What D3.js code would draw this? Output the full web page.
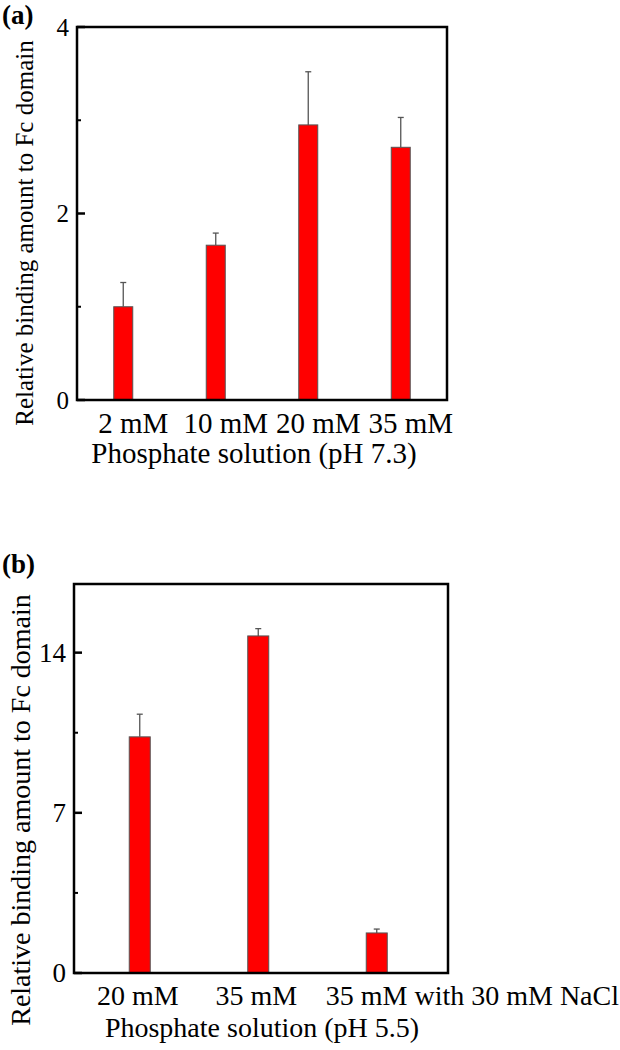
<!DOCTYPE html>
<html>
<head>
<meta charset="utf-8">
<script src="https://cdn.jsdelivr.net/npm/d3@7"></script>
<style>
  html, body { margin: 0; padding: 0; background: #fff; }
  svg { display: block; }
  text { font-family: "Liberation Serif", "Times New Roman", serif; fill: #000; }
</style>
</head>
<body>
<svg id="chart" width="620" height="1050"></svg>
<script>
// ---- Panel (a) data ----
const categoriesA = ["2 mM", "10 mM", "20 mM", "35 mM"];
const valuesA = [1.0, 1.66, 2.95, 2.71];
const errorsA = [0.26, 0.13, 0.57, 0.32];
const majorTicksA = [0, 2, 4];
const minorTicksA = [1, 3];

// ---- Panel (b) data ----
const categoriesB = ["20 mM", "35 mM", "35 mM with 30 mM NaCl"];
const valuesB = [10.32, 14.73, 1.75];
const errorsB = [0.99, 0.32, 0.17];
const majorTicksB = [0, 7, 14];
const minorTicksB = [3.5, 10.5];

const svg = d3.select("#chart");
const W = 620;

function panel(cfg) {
  const g = svg.append("g");
  const x = d3.scaleBand().domain(cfg.cats).range([cfg.bandL, cfg.bandR]).paddingInner(0).paddingOuter(0);
  const y = d3.scaleLinear().domain(cfg.domain).range([cfg.bottom, cfg.top]);
  const data = cfg.cats.map((c, i) => ({ c, v: cfg.vals[i], e: cfg.errs[i] }));

  // error bars (upper only)
  const eb = g.selectAll(".eb").data(data).enter().append("g");
  eb.append("line")
    .attr("x1", d => x(d.c) + x.bandwidth() / 2)
    .attr("x2", d => x(d.c) + x.bandwidth() / 2)
    .attr("y1", d => y(d.v))
    .attr("y2", d => y(d.v + d.e))
    .attr("stroke", "#555").attr("stroke-width", 1.3);
  eb.append("line")
    .attr("x1", d => x(d.c) + x.bandwidth() / 2 - 3)
    .attr("x2", d => x(d.c) + x.bandwidth() / 2 + 3)
    .attr("y1", d => y(d.v + d.e))
    .attr("y2", d => y(d.v + d.e))
    .attr("stroke", "#555").attr("stroke-width", 1.3);

  // bars
  g.selectAll(".bar").data(data).enter().append("rect")
    .attr("x", d => x(d.c) + x.bandwidth() / 2 - cfg.barW / 2)
    .attr("width", cfg.barW)
    .attr("y", d => y(d.v))
    .attr("height", d => y(0) - y(d.v))
    .attr("fill", "#ff0000")
    .attr("stroke", "#555").attr("stroke-width", 1);

  // left axis ticks (inward)
  const left = cfg.left, right = cfg.right;
  g.selectAll(".maj").data(cfg.major).enter().append("line")
    .attr("x1", left).attr("x2", left + 8)
    .attr("y1", d => y(d)).attr("y2", d => y(d))
    .attr("stroke", "#000").attr("stroke-width", 2.5);
  g.selectAll(".min").data(cfg.minor).enter().append("line")
    .attr("x1", left).attr("x2", left + 4)
    .attr("y1", d => y(d)).attr("y2", d => y(d))
    .attr("stroke", "#000").attr("stroke-width", 2);
  g.selectAll(".ylab").data(cfg.major).enter().append("text")
    .attr("x", left - 8).attr("y", d => y(d)).attr("dy", "0.34em")
    .attr("text-anchor", "end").attr("font-size", cfg.yTickFont)
    .text(d => d);

  // frame
  g.append("rect")
    .attr("x", left).attr("y", cfg.top)
    .attr("width", right - left).attr("height", cfg.bottom - cfg.top)
    .attr("fill", "none").attr("stroke", "#000").attr("stroke-width", 2.5);

  // category labels
  g.selectAll(".xlab").data(data).enter().append("text")
    .attr("font-size", cfg.xFont)
    .attr("y", cfg.xLabY)
    .attr("text-anchor", "middle")
    .text(d => d.c)
    .attr("x", function (d) {
      const w = this.getComputedTextLength();
      const cx = x(d.c) + x.bandwidth() / 2 + cfg.labelShift;
      // a label wider than its band is pushed flush to the right edge
      return w > x.bandwidth() ? W - w / 2 - 1 : cx;
    });

  // axis titles
  g.append("text")
    .attr("x", cfg.xTitleX).attr("y", cfg.xTitleY)
    .attr("text-anchor", "middle").attr("font-size", cfg.xFont)
    .text(cfg.xTitle);
  g.append("text")
    .attr("transform", `translate(${cfg.yTitleX},${cfg.yTitleY}) rotate(-90)`)
    .attr("text-anchor", "middle").attr("font-size", cfg.yTitleFont)
    .text("Relative binding amount to Fc domain");

  // panel letter
  g.append("text")
    .attr("x", 2).attr("y", cfg.letterY)
    .attr("font-size", 27).attr("font-weight", "bold")
    .text(cfg.letter);
}

panel({
  cats: categoriesA, vals: valuesA, errs: errorsA,
  major: majorTicksA, minor: minorTicksA, domain: [0, 4],
  left: 77, right: 447, top: 27, bottom: 400,
  bandL: 77, bandR: 447, barW: 19, labelShift: 10,
  yTickFont: 25, xFont: 29, xLabY: 433,
  xTitle: "Phosphate solution (pH 7.3)", xTitleX: 254, xTitleY: 463,
  yTitleX: 33, yTitleY: 233, yTitleFont: 25,
  letter: "(a)", letterY: 24
});

panel({
  cats: categoriesB, vals: valuesB, errs: errorsB,
  major: majorTicksB, minor: minorTicksB, domain: [0, 17],
  left: 74, right: 448, top: 584, bottom: 973,
  bandL: 80.5, bandR: 436, barW: 21, labelShift: -2,
  yTickFont: 27, xFont: 28, xLabY: 1005,
  xTitle: "Phosphate solution (pH 5.5)", xTitleX: 262, xTitleY: 1037,
  yTitleX: 30, yTitleY: 810, yTitleFont: 28,
  letter: "(b)", letterY: 573
});
</script>
</body>
</html>
